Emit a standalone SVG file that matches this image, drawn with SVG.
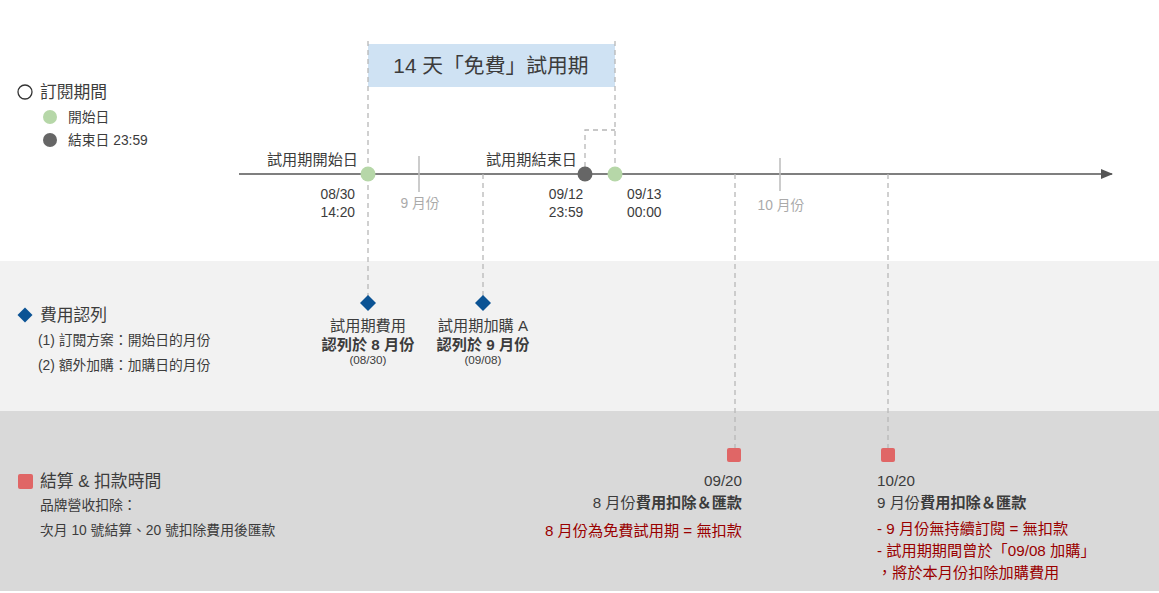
<svg xmlns="http://www.w3.org/2000/svg" width="1159" height="593" viewBox="0 0 1159 593">
<defs>
<marker id="arr" markerWidth="12" markerHeight="10" refX="11" refY="5" orient="auto" markerUnits="userSpaceOnUse">
<path d="M0,0 L12,5 L0,10 Z" fill="#555"/>
</marker>
<style>
text{font-family:"Liberation Sans","Noto Sans CJK TC",sans-serif;fill:#3c3c3c}
.t13{font-size:13.8px}
.t14{font-size:15.2px}
.t16{font-size:16.8px}
.t11{font-size:11.7px}
.b{font-weight:bold}
.g{fill:#aaaaaa}
.r{fill:#990000}
.mid{text-anchor:middle}
.end{text-anchor:end}
.dash{stroke:#b7b7b7;stroke-width:1.3;stroke-dasharray:5,4;fill:none}
.green{fill:#b6d7a8}
.dark{fill:#666666}
.dia{fill:#0b5394}
.sq{fill:#e06666}
</style>
</defs>
<rect x="0" y="0" width="1159" height="593" fill="#ffffff"/>
<rect id="band-mid" x="0" y="261" width="1159" height="150" fill="#f2f2f2"/>
<rect id="band-bot" x="0" y="411" width="1159" height="180" fill="#d9d9d9"/>

<g id="trial-box">
<rect x="368" y="44" width="247" height="43" fill="#cfe2f3"/>
<text x="491" y="73" class="mid" style="font-size:20.8px">14 天「免費」試用期</text>
</g>

<g id="connectors">
<line x1="239" y1="174" x2="1112" y2="174" stroke="#555" stroke-width="1.5" marker-end="url(#arr)"/>
<path class="dash" d="M368,41 V300"/>
<path class="dash" d="M615,41 V167"/>
<path class="dash" d="M585,167 V130 H615"/>
<path class="dash" d="M483,174 V298"/>
<path class="dash" d="M735,174 V448"/>
<path class="dash" d="M888,174 V448"/>
<line x1="419" y1="156" x2="419" y2="192" stroke="#bbbbbb" stroke-width="1.5"/>
<line x1="780" y1="158" x2="780" y2="191" stroke="#bbbbbb" stroke-width="1.5"/>
</g>

<g id="legend-subscription">
<circle cx="25" cy="92" r="7" fill="#fff" stroke="#333" stroke-width="1.3"/>
<text x="40" y="98" class="t16">訂閱期間</text>
<circle cx="50" cy="117" r="7" class="green"/>
<text x="68" y="122" class="t13">開始日</text>
<circle cx="50" cy="140" r="7" class="dark"/>
<text x="68" y="145" class="t13">結束日 23:59</text>
</g>

<g id="node-start">
<circle cx="368" cy="174" r="7.5" class="green"/>
<text x="358" y="165" class="t14 end">試用期開始日</text>
<text x="355" y="199" class="t13 end">08/30</text>
<text x="355" y="217" class="t13 end">14:20</text>
</g>

<g id="label-sep">
<text x="420" y="208" class="t13 mid g">9 月份</text>
</g>

<g id="node-end">
<circle cx="585" cy="174" r="7.5" class="dark"/>
<text x="577" y="165" class="t14 end">試用期結束日</text>
<text x="566" y="199" class="t13 mid">09/12</text>
<text x="566" y="217" class="t13 mid">23:59</text>
</g>

<g id="node-next">
<circle cx="615" cy="174" r="7.5" class="green"/>
<text x="627" y="199" class="t13">09/13</text>
<text x="627" y="217" class="t13">00:00</text>
</g>

<g id="label-oct">
<text x="781" y="210" class="t13 mid g">10 月份</text>
</g>

<g id="legend-recognition">
<path d="M25,307.5 L32.5,315 L25,322.5 L17.5,315 Z" class="dia"/>
<text x="40" y="321" class="t16">費用認列</text>
<text x="38" y="345" class="t13">(1) 訂閱方案：開始日的月份</text>
<text x="38" y="370" class="t13">(2) 額外加購：加購日的月份</text>
</g>

<g id="node-trial-fee">
<path d="M368,295 L376,303 L368,311 L360,303 Z" class="dia"/>
<text x="368" y="331" class="t14 mid">試用期費用</text>
<text x="368" y="350" class="t14 mid b">認列於 8 月份</text>
<text x="368" y="364" class="t11 mid">(08/30)</text>
</g>

<g id="node-addon">
<path d="M483,295 L491,303 L483,311 L475,303 Z" class="dia"/>
<text x="483" y="331" class="t14 mid">試用期加購 A</text>
<text x="483" y="350" class="t14 mid b">認列於 9 月份</text>
<text x="483" y="364" class="t11 mid">(09/08)</text>
</g>

<g id="legend-settlement">
<rect x="18" y="474" width="15" height="15" rx="2" class="sq"/>
<text x="40" y="487" class="t16">結算 &amp; 扣款時間</text>
<text x="40" y="510" class="t13">品牌營收扣除：</text>
<text x="40" y="535" class="t13">次月 10 號結算、20 號扣除費用後匯款</text>
</g>

<g id="node-0920">
<rect x="727" y="448" width="14" height="14" rx="2" class="sq"/>
<text x="742" y="486" class="t14 end">09/20</text>
<text x="742" y="508" class="t14 end">8 月份<tspan class="b">費用扣除＆匯款</tspan></text>
<text x="742" y="536" class="t14 end r">8 月份為免費試用期 = 無扣款</text>
</g>

<g id="node-1020">
<rect x="881" y="448" width="14" height="14" rx="2" class="sq"/>
<text x="877" y="486" class="t14">10/20</text>
<text x="877" y="508" class="t14">9 月份<tspan class="b">費用扣除＆匯款</tspan></text>
<text x="877" y="534" class="t14 r">- 9 月份無持續訂閱 = 無扣款</text>
<text x="877" y="556" class="t14 r">- 試用期期間曾於「09/08 加購」</text>
<text x="877" y="578" class="t14 r">，將於本月份扣除加購費用</text>
</g>
</svg>
